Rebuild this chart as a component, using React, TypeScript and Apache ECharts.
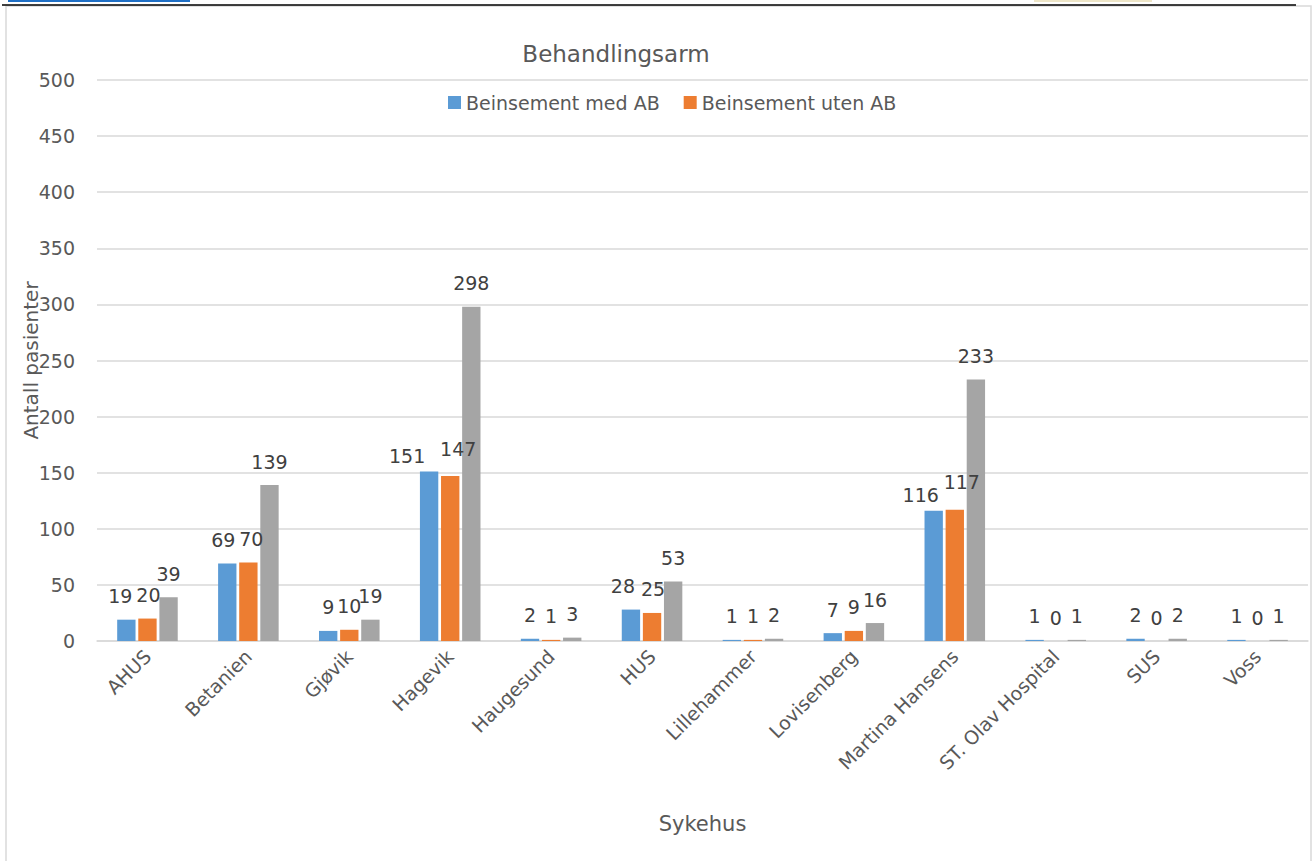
import React, { useEffect, useRef } from "react";
import * as echarts from "echarts";

const categories = ["AHUS", "Betanien", "Gjøvik", "Hagevik", "Haugesund", "HUS", "Lillehammer", "Lovisenberg", "Martina Hansens", "ST. Olav Hospital", "SUS", "Voss"];
const medAB = [19, 69, 9, 151, 2, 28, 1, 7, 116, 1, 2, 1];
const utenAB = [20, 70, 10, 147, 1, 25, 1, 9, 117, 0, 0, 0];
const totalt = [39, 139, 19, 298, 3, 53, 2, 16, 233, 1, 2, 1];
const seriesNames = ["Beinsement med AB", "Beinsement uten AB", "Totalt"];

// manually moved data labels in the original (series index -> category index -> [dx, dy])
const labelMoves: Record<number, Record<number, [number, number]>> = {
  0: { 0: [-6, 0], 1: [-4, 0], 3: [-22, 8], 5: [-8, 0], 8: [-13, 8] },
  1: { 0: [1, 0], 1: [3, 0], 3: [8, -4], 5: [1, 0], 8: [7, -4] },
};

const FONT = "DejaVu Sans";
const TXT = "#595959";

export default function App() {
  const ref = useRef<HTMLDivElement>(null);
  useEffect(() => {
    const chart = echarts.init(ref.current!, null, { renderer: "svg" });
    const label = {
      show: true,
      position: "top" as const,
      distance: 14,
      color: "#404040",
      fontSize: 19,
      fontFamily: FONT,
    };
    const build = (vals: number[], si: number) =>
      vals.map((v, i) => {
        const m = labelMoves[si] && labelMoves[si][i];
        return m ? { value: v, label: { offset: m } } : v;
      });
    chart.setOption({
      animation: false,
      backgroundColor: "#ffffff",
      textStyle: { fontFamily: FONT },
      title: {
        text: "Behandlingsarm",
        left: 611,
        top: 37,
        textAlign: "center",
        textStyle: { fontSize: 23, fontWeight: "normal", color: TXT, fontFamily: FONT },
      },
      legend: {
        data: seriesNames.slice(0, 2),
        left: 443,
        top: 88,
        itemWidth: 13,
        itemHeight: 13,
        itemGap: 24,
        icon: "rect",
        textStyle: { fontSize: 19, color: TXT, fontFamily: FONT },
      },
      grid: { left: 97, right: 5, top: 80, bottom: 220, containLabel: false },
      xAxis: {
        type: "category",
        data: categories,
        name: "Sykehus",
        nameLocation: "middle",
        nameGap: 172,
        nameMoveOverlap: false,
        nameTextStyle: { fontSize: 21, color: TXT, fontFamily: FONT },
        axisLine: { lineStyle: { color: "#d9d9d9", width: 1.5 } },
        axisTick: { show: false },
        axisLabel: { rotate: 45, fontSize: 19, color: TXT, margin: 12, interval: 0, fontFamily: FONT },
      },
      yAxis: {
        type: "value",
        min: 0,
        max: 500,
        interval: 50,
        name: "Antall pasienter",
        nameLocation: "middle",
        nameGap: 56,
        nameMoveOverlap: false,
        nameTextStyle: { fontSize: 20, color: TXT, fontFamily: FONT },
        axisLine: { show: false },
        axisTick: { show: false },
        axisLabel: { fontSize: 19, color: TXT, margin: 22, fontFamily: FONT },
        splitLine: { lineStyle: { color: "#d9d9d9", width: 1.5 } },
      },
      series: [
        { name: seriesNames[0], type: "bar", data: build(medAB, 0), itemStyle: { color: "#5b9bd5" }, label, barGap: "15%", barCategoryGap: "40%" },
        { name: seriesNames[1], type: "bar", data: build(utenAB, 1), itemStyle: { color: "#ed7d31" }, label },
        { name: seriesNames[2], type: "bar", data: build(totalt, 2), itemStyle: { color: "#a5a5a5" }, label },
      ],
      graphic: [
        { type: "rect", shape: { x: 6, y: 6, width: 1305, height: 870 }, style: { fill: "none", stroke: "#d9d9d9", lineWidth: 1.5 }, z: -10 },
        { type: "line", shape: { x1: 2, y1: 5, x2: 1296, y2: 5 }, style: { stroke: "#000000", lineWidth: 1.5 } },
        { type: "rect", shape: { x: 8, y: 0, width: 182, height: 2 }, style: { fill: "#1f6fc5" } },
        { type: "rect", shape: { x: 1034, y: 0, width: 118, height: 2 }, style: { fill: "#eee6c8" } },
      ],
    });
    return () => chart.dispose();
  }, []);
  return <div ref={ref} style={{ position: "fixed", left: 0, top: 0, width: 1313, height: 861 }} />;
}
